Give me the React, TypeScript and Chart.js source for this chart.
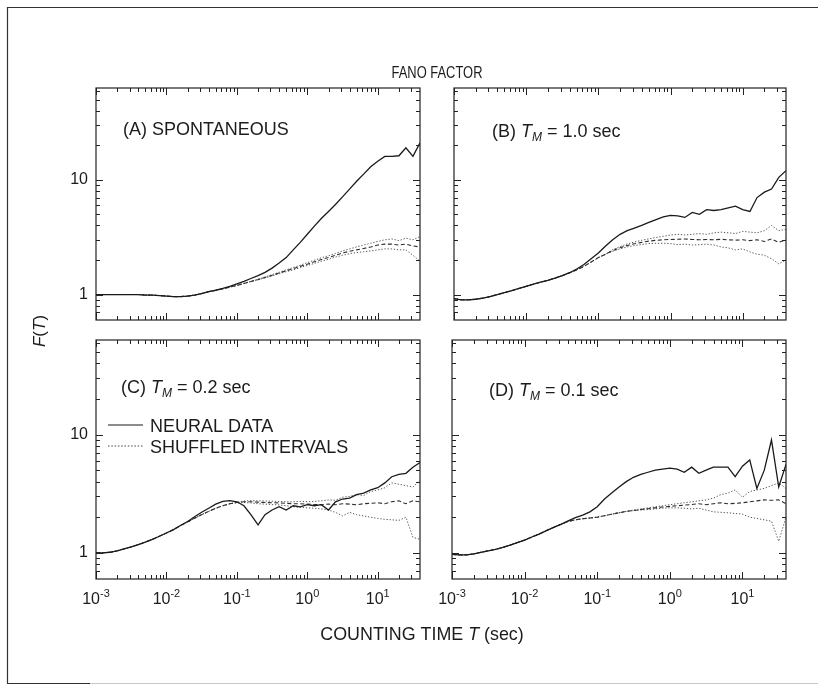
import { useEffect, useRef } from 'react';
import { Chart, registerables } from 'chart.js';

Chart.register(...registerables);

// ---------- data ----------
const countingTime = [
  0.001, 0.00126, 0.00158, 0.002, 0.00251, 0.00316, 0.00398, 0.00501, 0.00631, 0.00794,
  0.01, 0.0126, 0.0158, 0.02, 0.0251, 0.0316, 0.0398, 0.0501, 0.0631, 0.0794,
  0.1, 0.126, 0.158, 0.2, 0.251, 0.316, 0.398, 0.501, 0.631, 0.794,
  1, 1.26, 1.58, 2, 2.51, 3.16, 3.98, 5.01, 6.31, 7.94,
  10, 12.6, 15.8, 20, 25.1, 31.6, 39.8,
];

const neuralA = [
  1.0, 1.0, 1.0, 1.0, 1.0, 1.0, 1.0, 0.99, 0.99, 0.98,
  0.97, 0.96, 0.96, 0.97, 0.99, 1.02, 1.06, 1.09, 1.13, 1.18,
  1.24, 1.3, 1.38, 1.46, 1.56, 1.7, 1.88, 2.1, 2.45, 2.85,
  3.35, 3.95, 4.6, 5.3, 6.1, 7.1, 8.3, 9.7, 11.2, 13.0,
  14.5, 16.0, 16.0, 16.2, 19.0, 16.0, 21.0,
];
const shuffledMeanA = [
  1.0, 1.0, 1.0, 1.0, 1.0, 1.0, 1.0, 0.99, 0.99, 0.98,
  0.97, 0.96, 0.96, 0.97, 0.99, 1.02, 1.06, 1.09, 1.12, 1.16,
  1.2, 1.25, 1.3, 1.35, 1.41, 1.47, 1.54, 1.61, 1.68, 1.76,
  1.84, 1.93, 2.02, 2.1, 2.2, 2.3, 2.38, 2.45, 2.52, 2.6,
  2.7, 2.75, 2.75, 2.7, 2.75, 2.65, 2.6,
];
const shuffledUpperA = [
  1.0, 1.0, 1.0, 1.0, 1.0, 1.0, 1.0, 0.99, 0.99, 0.98,
  0.97, 0.96, 0.96, 0.97, 0.99, 1.02, 1.06, 1.09, 1.12, 1.16,
  1.2, 1.25, 1.3, 1.36, 1.42, 1.49, 1.56, 1.64, 1.72, 1.8,
  1.9, 1.99, 2.09, 2.18, 2.28, 2.4, 2.5, 2.6, 2.7, 2.8,
  2.9, 3.0, 3.05, 2.95, 3.1, 3.0, 3.2,
];
const shuffledLowerA = [
  1.0, 1.0, 1.0, 1.0, 1.0, 1.0, 1.0, 0.99, 0.99, 0.98,
  0.97, 0.96, 0.96, 0.97, 0.99, 1.02, 1.06, 1.09, 1.12, 1.16,
  1.2, 1.25, 1.3, 1.34, 1.4, 1.45, 1.52, 1.58, 1.64, 1.72,
  1.79, 1.87, 1.95, 2.03, 2.12, 2.2, 2.27, 2.32, 2.36, 2.4,
  2.45, 2.5, 2.5, 2.45, 2.45, 2.2, 1.95,
];

const neuralB = [
  0.92, 0.9, 0.9, 0.91, 0.93, 0.96, 1.0, 1.04, 1.08, 1.13,
  1.18, 1.23, 1.28, 1.33, 1.39, 1.46, 1.55, 1.67, 1.83, 2.05,
  2.3, 2.65, 3.0, 3.35, 3.6, 3.8, 4.0, 4.25, 4.5, 4.75,
  4.9, 4.85, 4.7, 5.2, 5.0, 5.5, 5.4, 5.5, 5.7, 5.9,
  5.5, 5.3, 7.0, 7.8, 8.3, 10.5, 12.0,
];
const shuffledMeanB = [
  0.92, 0.9, 0.9, 0.91, 0.93, 0.96, 1.0, 1.04, 1.08, 1.13,
  1.18, 1.23, 1.28, 1.33, 1.39, 1.46, 1.54, 1.64, 1.76, 1.92,
  2.1, 2.25, 2.42, 2.56, 2.68, 2.77, 2.85, 2.92, 2.97, 3.0,
  3.02, 3.03, 3.05, 3.02, 3.0, 3.02, 3.0, 3.03, 3.0, 2.98,
  3.0, 2.95, 3.0, 2.9, 3.05, 2.85, 3.0,
];
const shuffledUpperB = [
  0.92, 0.9, 0.9, 0.91, 0.93, 0.96, 1.0, 1.04, 1.08, 1.13,
  1.18, 1.23, 1.28, 1.33, 1.39, 1.46, 1.54, 1.64, 1.76, 1.92,
  2.1, 2.26, 2.46, 2.62, 2.76, 2.87, 2.97, 3.06, 3.14, 3.22,
  3.3, 3.35, 3.3, 3.35, 3.4, 3.35, 3.45, 3.5, 3.45, 3.4,
  3.55, 3.5, 3.45, 3.6, 4.0, 3.6, 3.7,
];
const shuffledLowerB = [
  0.92, 0.9, 0.9, 0.91, 0.93, 0.96, 1.0, 1.04, 1.08, 1.13,
  1.18, 1.23, 1.28, 1.33, 1.39, 1.46, 1.54, 1.64, 1.76, 1.92,
  2.1, 2.24, 2.38, 2.5, 2.6, 2.67, 2.73, 2.78, 2.8, 2.8,
  2.78, 2.72, 2.75, 2.7, 2.72, 2.75, 2.7, 2.6, 2.55, 2.45,
  2.5, 2.35, 2.25, 2.2, 2.05, 1.85, 2.0,
];

const neuralC = [
  1.0, 1.0, 1.01, 1.04, 1.08, 1.12, 1.17, 1.23, 1.3, 1.38,
  1.47, 1.57, 1.7, 1.84, 2.02, 2.2, 2.38, 2.58, 2.72, 2.76,
  2.7, 2.5, 2.1, 1.72, 2.1, 2.3, 2.45, 2.3, 2.5, 2.45,
  2.55, 2.5, 2.55, 2.3, 2.7, 2.85, 2.9, 3.1, 3.2, 3.4,
  3.55, 3.9, 4.4, 4.6, 4.7, 5.3, 5.8,
];
const shuffledMeanC = [
  1.0, 1.0, 1.01, 1.04, 1.08, 1.12, 1.17, 1.23, 1.3, 1.38,
  1.47, 1.57, 1.7, 1.82, 1.96, 2.1, 2.24, 2.38, 2.5, 2.6,
  2.66, 2.7, 2.7, 2.68, 2.66, 2.65, 2.64, 2.62, 2.6, 2.6,
  2.58, 2.56, 2.55, 2.58, 2.55, 2.6, 2.58, 2.55, 2.6, 2.62,
  2.65, 2.6, 2.7, 2.75, 2.6, 2.75, 2.7,
];
const shuffledUpperC = [
  1.0, 1.0, 1.01, 1.04, 1.08, 1.12, 1.17, 1.23, 1.3, 1.38,
  1.47, 1.57, 1.7, 1.82, 1.96, 2.1, 2.24, 2.38, 2.5, 2.6,
  2.68, 2.74, 2.76, 2.75, 2.74, 2.73, 2.72, 2.7, 2.7, 2.72,
  2.7, 2.72, 2.75, 2.8, 2.78, 2.95, 3.0, 3.1, 3.05, 3.3,
  3.4, 3.55, 3.9, 3.8, 3.7, 3.6, 4.1,
];
const shuffledLowerC = [
  1.0, 1.0, 1.01, 1.04, 1.08, 1.12, 1.17, 1.23, 1.3, 1.38,
  1.47, 1.57, 1.7, 1.82, 1.96, 2.1, 2.24, 2.38, 2.5, 2.6,
  2.64, 2.66, 2.64, 2.6, 2.58, 2.56, 2.54, 2.5, 2.45, 2.42,
  2.4, 2.38, 2.35, 2.3, 2.2, 2.05, 2.2, 2.1, 2.05, 2.0,
  1.95, 1.92, 1.9, 1.88, 2.0, 1.35, 1.3,
];

const neuralD = [
  0.97, 0.96, 0.96, 0.98, 1.01, 1.04, 1.07, 1.11, 1.16, 1.22,
  1.28, 1.36, 1.44, 1.54, 1.64, 1.74, 1.86, 1.98, 2.08, 2.22,
  2.45, 2.85, 3.2, 3.6, 4.0, 4.35, 4.6, 4.8, 5.0, 5.1,
  5.2, 5.1, 4.8, 5.3, 4.7, 5.0, 5.3, 5.3, 5.3, 4.4,
  5.4, 6.1, 3.5, 5.0, 9.0, 3.6, 5.6,
];
const shuffledMeanD = [
  0.97, 0.96, 0.96, 0.98, 1.01, 1.04, 1.07, 1.11, 1.16, 1.22,
  1.28, 1.36, 1.44, 1.54, 1.64, 1.74, 1.84, 1.9, 1.94, 1.97,
  2.0, 2.06, 2.12, 2.18, 2.24, 2.28, 2.32, 2.36, 2.4, 2.44,
  2.47, 2.5, 2.53, 2.56, 2.6, 2.55, 2.6, 2.65, 2.6, 2.62,
  2.65, 2.7, 2.75, 2.8, 2.78, 2.8, 2.6,
];
const shuffledUpperD = [
  0.97, 0.96, 0.96, 0.98, 1.01, 1.04, 1.07, 1.11, 1.16, 1.22,
  1.28, 1.36, 1.44, 1.54, 1.64, 1.74, 1.84, 1.9, 1.94, 1.97,
  2.0, 2.06, 2.12, 2.18, 2.24, 2.3, 2.35, 2.4, 2.45, 2.5,
  2.55, 2.6, 2.65, 2.7, 2.75, 2.8, 2.9, 3.1, 3.2, 3.4,
  2.95, 3.3, 3.4, 3.5, 3.7, 3.9, 3.5,
];
const shuffledLowerD = [
  0.97, 0.96, 0.96, 0.98, 1.01, 1.04, 1.07, 1.11, 1.16, 1.22,
  1.28, 1.36, 1.44, 1.54, 1.64, 1.74, 1.84, 1.9, 1.94, 1.97,
  2.0, 2.06, 2.12, 2.18, 2.24, 2.27, 2.3, 2.32, 2.35, 2.38,
  2.4, 2.4, 2.38, 2.35, 2.38, 2.3, 2.22, 2.2, 2.18, 2.15,
  2.12, 2.0, 1.95, 1.9, 1.85, 1.25, 2.0,
];

const xMajorTicks = [0.001, 0.01, 0.1, 1, 10];
const xTickExponents = ['-3', '-2', '-1', '0', '1'];
const yMajorTicks = [1, 10];
const yTickLabels = ['1', '10'];
const decades = [0.1, 1, 10, 100];
const xDecades = [0.0001, 0.001, 0.01, 0.1, 1, 10];
const minorMultipliers = [1, 2, 3, 4, 5, 6, 7, 8, 9];

const panelTags = ['(A)', '(B)', '(C)', '(D)'];
const panelConditions = ['SPONTANEOUS', '= 1.0 sec', '= 0.2 sec', '= 0.1 sec'];
const legendLabels = ['NEURAL DATA', 'SHUFFLED INTERVALS'];
const figureTitle = 'FANO FACTOR';
const xTitle = ['COUNTING TIME ', 'T', ' (sec)'];
const yTitle = ['F', '(', 'T', ')'];

const X_MIN = 0.001;
const X_MAX = 39.8;
const Y_MIN = 0.631;
const Y_MAX = 63.1;

// ---------- drawing helpers ----------
const FONT = '"Liberation Sans", Arial, Helvetica, sans-serif';
type Run = { text: string; size: number; italic?: boolean; dy?: number };
const fontOf = (r: Run) => `${r.italic ? 'italic ' : ''}${r.size}px ${FONT}`;

function runsWidth(ctx: CanvasRenderingContext2D, runs: Run[]) {
  let w = 0;
  for (const r of runs) {
    ctx.font = fontOf(r);
    w += ctx.measureText(r.text).width;
  }
  return w;
}
function drawRuns(ctx: CanvasRenderingContext2D, x: number, y: number, runs: Run[]) {
  let cx = x;
  for (const r of runs) {
    ctx.font = fontOf(r);
    ctx.fillText(r.text, cx, y + (r.dy || 0));
    cx += ctx.measureText(r.text).width;
  }
}
function drawRunsCentered(ctx: CanvasRenderingContext2D, cx: number, y: number, runs: Run[], sx: number) {
  ctx.save();
  ctx.translate(cx, y);
  ctx.scale(sx, 1);
  drawRuns(ctx, -runsWidth(ctx, runs) / 2, 0, runs);
  ctx.restore();
}

const TEXT = '#1c1c1c';

const fanoPlugin = {
  id: 'fano',
  afterDatasetsDraw(chart: any, _args: any, opts: any) {
    const ctx: CanvasRenderingContext2D = chart.ctx;
    const a = chart.chartArea;
    const xs = chart.scales.x;
    const ys = chart.scales.y;
    ctx.save();
    ctx.textBaseline = 'alphabetic';
    ctx.textAlign = 'left';
    ctx.fillStyle = TEXT;

    // frame
    ctx.strokeStyle = '#222';
    ctx.lineWidth = 1.2;
    ctx.strokeRect(a.left, a.top, a.right - a.left, a.bottom - a.top);

    // ticks (inward, all four sides)
    ctx.lineWidth = 1;
    ctx.beginPath();
    for (const d of xDecades) {
      for (const m of minorMultipliers) {
        const v = d * m;
        if (v < X_MIN * 0.999 || v > X_MAX) continue;
        const px = Math.round(xs.getPixelForValue(v)) + 0.5;
        const len = m === 1 ? 7 : 4;
        ctx.moveTo(px, a.bottom);
        ctx.lineTo(px, a.bottom - len);
        ctx.moveTo(px, a.top);
        ctx.lineTo(px, a.top + len);
      }
    }
    for (const d of decades) {
      for (const m of minorMultipliers) {
        const v = d * m;
        if (v < Y_MIN || v > Y_MAX) continue;
        const py = Math.round(ys.getPixelForValue(v)) + 0.5;
        const len = m === 1 ? 7 : 4;
        ctx.moveTo(a.left, py);
        ctx.lineTo(a.left + len, py);
        ctx.moveTo(a.right, py);
        ctx.lineTo(a.right - len, py);
      }
    }
    ctx.stroke();

    // y tick labels
    if (opts.yLabels) {
      ctx.textAlign = 'right';
      ctx.textBaseline = 'middle';
      ctx.font = `16px ${FONT}`;
      yMajorTicks.forEach((v, i) => {
        ctx.fillText(yTickLabels[i], a.left - 8, ys.getPixelForValue(v));
      });
      ctx.textAlign = 'left';
      ctx.textBaseline = 'alphabetic';
    }

    // x tick labels with superscripts
    if (opts.xLabels) {
      xMajorTicks.forEach((v, i) => {
        const runs: Run[] = [
          { text: '10', size: 16 },
          { text: xTickExponents[i], size: 11, dy: -7 },
        ];
        const w = runsWidth(ctx, runs);
        drawRuns(ctx, xs.getPixelForValue(v) - w / 2, a.bottom + 25, runs);
      });
    }

    // panel label
    const idx = opts.index;
    const lab: Run[] =
      idx === 0
        ? [{ text: `${panelTags[0]} ${panelConditions[0]}`, size: 18 }]
        : [
            { text: `${panelTags[idx]} `, size: 18 },
            { text: 'T', size: 18, italic: true },
            { text: 'M', size: 12, italic: true, dy: 4 },
            { text: ` ${panelConditions[idx]}`, size: 18 },
          ];
    drawRuns(ctx, opts.labelX, opts.labelY, lab);

    // legend
    if (opts.legend) {
      const lx0 = a.left + 12;
      const lx1 = a.left + 47;
      const ly0 = a.top + 85;
      const ly1 = a.top + 106;
      ctx.strokeStyle = '#1a1a1a';
      ctx.lineWidth = 1.2;
      ctx.setLineDash([]);
      ctx.beginPath();
      ctx.moveTo(lx0, ly0);
      ctx.lineTo(lx1, ly0);
      ctx.stroke();
      ctx.strokeStyle = '#444';
      ctx.lineWidth = 1;
      ctx.setLineDash([1.5, 1.8]);
      ctx.beginPath();
      ctx.moveTo(lx0, ly1);
      ctx.lineTo(lx1, ly1);
      ctx.stroke();
      ctx.setLineDash([]);
      ctx.font = `18px ${FONT}`;
      ctx.fillText(legendLabels[0], lx1 + 7, ly0 + 7);
      ctx.fillText(legendLabels[1], lx1 + 7, ly1 + 7);
    }

    // global figure texts
    if (opts.global) {
      const W = chart.width;
      const H = chart.height;
      ctx.strokeStyle = '#333';
      ctx.lineWidth = 1.2;
      ctx.beginPath();
      ctx.moveTo(7, 7.5);
      ctx.lineTo(W, 7.5);
      ctx.moveTo(7.5, 7);
      ctx.lineTo(7.5, H - 8);
      ctx.moveTo(7, H - 8.5);
      ctx.lineTo(90, H - 8.5);
      ctx.stroke();
      ctx.strokeStyle = '#c8c8c8';
      ctx.beginPath();
      ctx.moveTo(90, H - 8.5);
      ctx.lineTo(W, H - 8.5);
      ctx.stroke();

      drawRunsCentered(ctx, 437, 78, [{ text: figureTitle, size: 17 }], 0.76);

      const xr: Run[] = [
        { text: xTitle[0], size: 19 },
        { text: xTitle[1], size: 19, italic: true },
        { text: xTitle[2], size: 19 },
      ];
      drawRunsCentered(ctx, 422, 640, xr, 0.94);

      const yr: Run[] = [
        { text: yTitle[0], size: 17, italic: true },
        { text: yTitle[1], size: 17 },
        { text: yTitle[2], size: 17, italic: true },
        { text: yTitle[3], size: 17 },
      ];
      ctx.save();
      ctx.translate(45, 331);
      ctx.rotate(-Math.PI / 2);
      drawRuns(ctx, -runsWidth(ctx, yr) / 2, 0, yr);
      ctx.restore();
    }
    ctx.restore();
  },
};

// ---------- panels ----------
type PanelCfg = {
  index: number;
  neural: number[];
  mean: number[];
  upper: number[];
  lower: number[];
  area: { l: number; t: number; r: number; b: number };
  labelX: number;
  labelY: number;
  xLabels: boolean;
  yLabels: boolean;
  legend: boolean;
  global: boolean;
};

const W = 818;
const H = 692;

const panels: PanelCfg[] = [
  { index: 0, neural: neuralA, mean: shuffledMeanA, upper: shuffledUpperA, lower: shuffledLowerA,
    area: { l: 96, t: 88, r: 420, b: 320 }, labelX: 123, labelY: 135,
    xLabels: false, yLabels: true, legend: false, global: true },
  { index: 1, neural: neuralB, mean: shuffledMeanB, upper: shuffledUpperB, lower: shuffledLowerB,
    area: { l: 454, t: 88, r: 786, b: 320 }, labelX: 492, labelY: 137,
    xLabels: false, yLabels: false, legend: false, global: false },
  { index: 2, neural: neuralC, mean: shuffledMeanC, upper: shuffledUpperC, lower: shuffledLowerC,
    area: { l: 96, t: 340, r: 420, b: 579 }, labelX: 121, labelY: 393,
    xLabels: true, yLabels: true, legend: true, global: false },
  { index: 3, neural: neuralD, mean: shuffledMeanD, upper: shuffledUpperD, lower: shuffledLowerD,
    area: { l: 452, t: 340, r: 786, b: 579 }, labelX: 489, labelY: 396,
    xLabels: true, yLabels: false, legend: false, global: false },
];

const toPoints = (vals: number[]) => countingTime.map((t, i) => ({ x: t, y: vals[i] }));

function Panel({ cfg }: { cfg: PanelCfg }) {
  const ref = useRef<HTMLCanvasElement>(null);
  useEffect(() => {
    if (!ref.current) return;
    const chart = new Chart(ref.current, {
      type: 'line',
      data: {
        datasets: [
          { label: 'Neural data', data: toPoints(cfg.neural), borderColor: '#1a1a1a', borderWidth: 1.3 },
          { label: 'Shuffled mean', data: toPoints(cfg.mean), borderColor: '#2e2e2e', borderWidth: 1.1, borderDash: [4, 2.5] },
          { label: 'Shuffled upper', data: toPoints(cfg.upper), borderColor: '#555', borderWidth: 1, borderDash: [1.3, 1.8] },
          { label: 'Shuffled lower', data: toPoints(cfg.lower), borderColor: '#555', borderWidth: 1, borderDash: [1.3, 1.8] },
        ],
      },
      options: {
        responsive: false,
        animation: false,
        devicePixelRatio: 1,
        events: [],
        layout: {
          padding: { left: cfg.area.l, top: cfg.area.t, right: W - cfg.area.r, bottom: H - cfg.area.b },
        },
        elements: { point: { radius: 0 }, line: { tension: 0, fill: false } },
        scales: {
          x: { type: 'logarithmic', min: X_MIN, max: X_MAX, display: false },
          y: { type: 'logarithmic', min: Y_MIN, max: Y_MAX, display: false },
        },
        plugins: {
          legend: { display: false },
          tooltip: { enabled: false },
          fano: cfg,
        } as any,
      },
      plugins: [fanoPlugin as any],
    });
    return () => chart.destroy();
  }, [cfg]);
  return <canvas ref={ref} width={W} height={H} style={{ position: 'absolute', left: 0, top: 0 }} />;
}

export default function App() {
  return (
    <div style={{ position: 'fixed', left: 0, top: 0, width: W, height: H, background: '#fff', overflow: 'hidden' }}>
      {panels.map((p) => (
        <Panel key={p.index} cfg={p} />
      ))}
    </div>
  );
}
